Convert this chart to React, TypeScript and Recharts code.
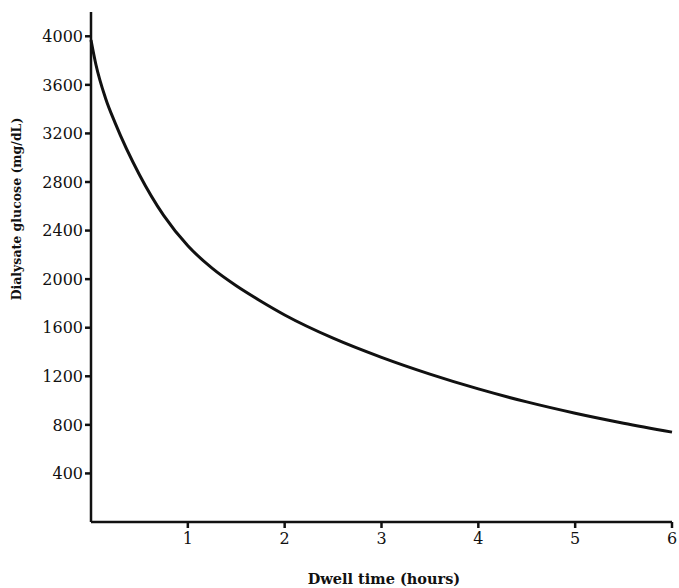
import { Label, Line, LineChart, XAxis, YAxis } from 'recharts'

const hours = [0, 0.05, 0.15, 0.25, 0.5, 0.75, 1, 1.25, 1.5, 1.75, 2, 2.5, 3, 3.5, 4, 4.5, 5, 5.5, 6]
const glucose = [3970, 3770, 3490, 3285, 2860, 2525, 2275, 2090, 1945, 1820, 1705, 1514, 1356, 1218, 1096, 989, 896, 814, 740]
const xTicks = [1, 2, 3, 4, 5, 6]
const yTicks = [400, 800, 1200, 1600, 2000, 2400, 2800, 3200, 3600, 4000]

const data = hours.map((h, i) => ({ hours: h, glucose: glucose[i] }))

const font = '"DejaVu Serif", "Liberation Serif", serif'

const App = () => {
  return (
    <div style={{ position: 'absolute', left: 0, top: 0, width: 679, height: 588, background: '#fff' }}>
      <LineChart width={679} height={588} data={data} margin={{ top: 12, right: 7, bottom: 0, left: 0 }}>
        <XAxis
          dataKey="hours"
          type="number"
          domain={[0, 6]}
          ticks={xTicks}
          height={66}
          stroke="#111"
          strokeWidth={2.5}
          tickSize={6}
          tickMargin={5}
          tick={{ fill: '#111', fontSize: 16, fontFamily: font }}
        >
          <Label
            content={() => (
              <text
                x={384}
                y={578}
                textAnchor="middle"
                dominantBaseline="central"
                style={{ fill: '#111', fontSize: 14.5, fontWeight: 'bold', fontFamily: font }}
              >
                Dwell time (hours)
              </text>
            )}
          />
        </XAxis>
        <YAxis
          type="number"
          domain={[0, 4200]}
          ticks={yTicks}
          width={91}
          stroke="#111"
          strokeWidth={2.5}
          tickSize={6}
          tick={{ fill: '#111', fontSize: 16, fontFamily: font }}
        >
          <Label
            content={() => (
              <text
                x={16}
                y={209}
                transform="rotate(-90 16 209)"
                textAnchor="middle"
                dominantBaseline="central"
                style={{ fill: '#111', fontSize: 12.5, fontWeight: 'bold', fontFamily: font }}
              >
                Dialysate glucose (mg/dL)
              </text>
            )}
          />
        </YAxis>
        <Line
          type="monotone"
          dataKey="glucose"
          stroke="#111"
          strokeWidth={3}
          dot={false}
          isAnimationActive={false}
        />
      </LineChart>
    </div>
  )
}

export default App
